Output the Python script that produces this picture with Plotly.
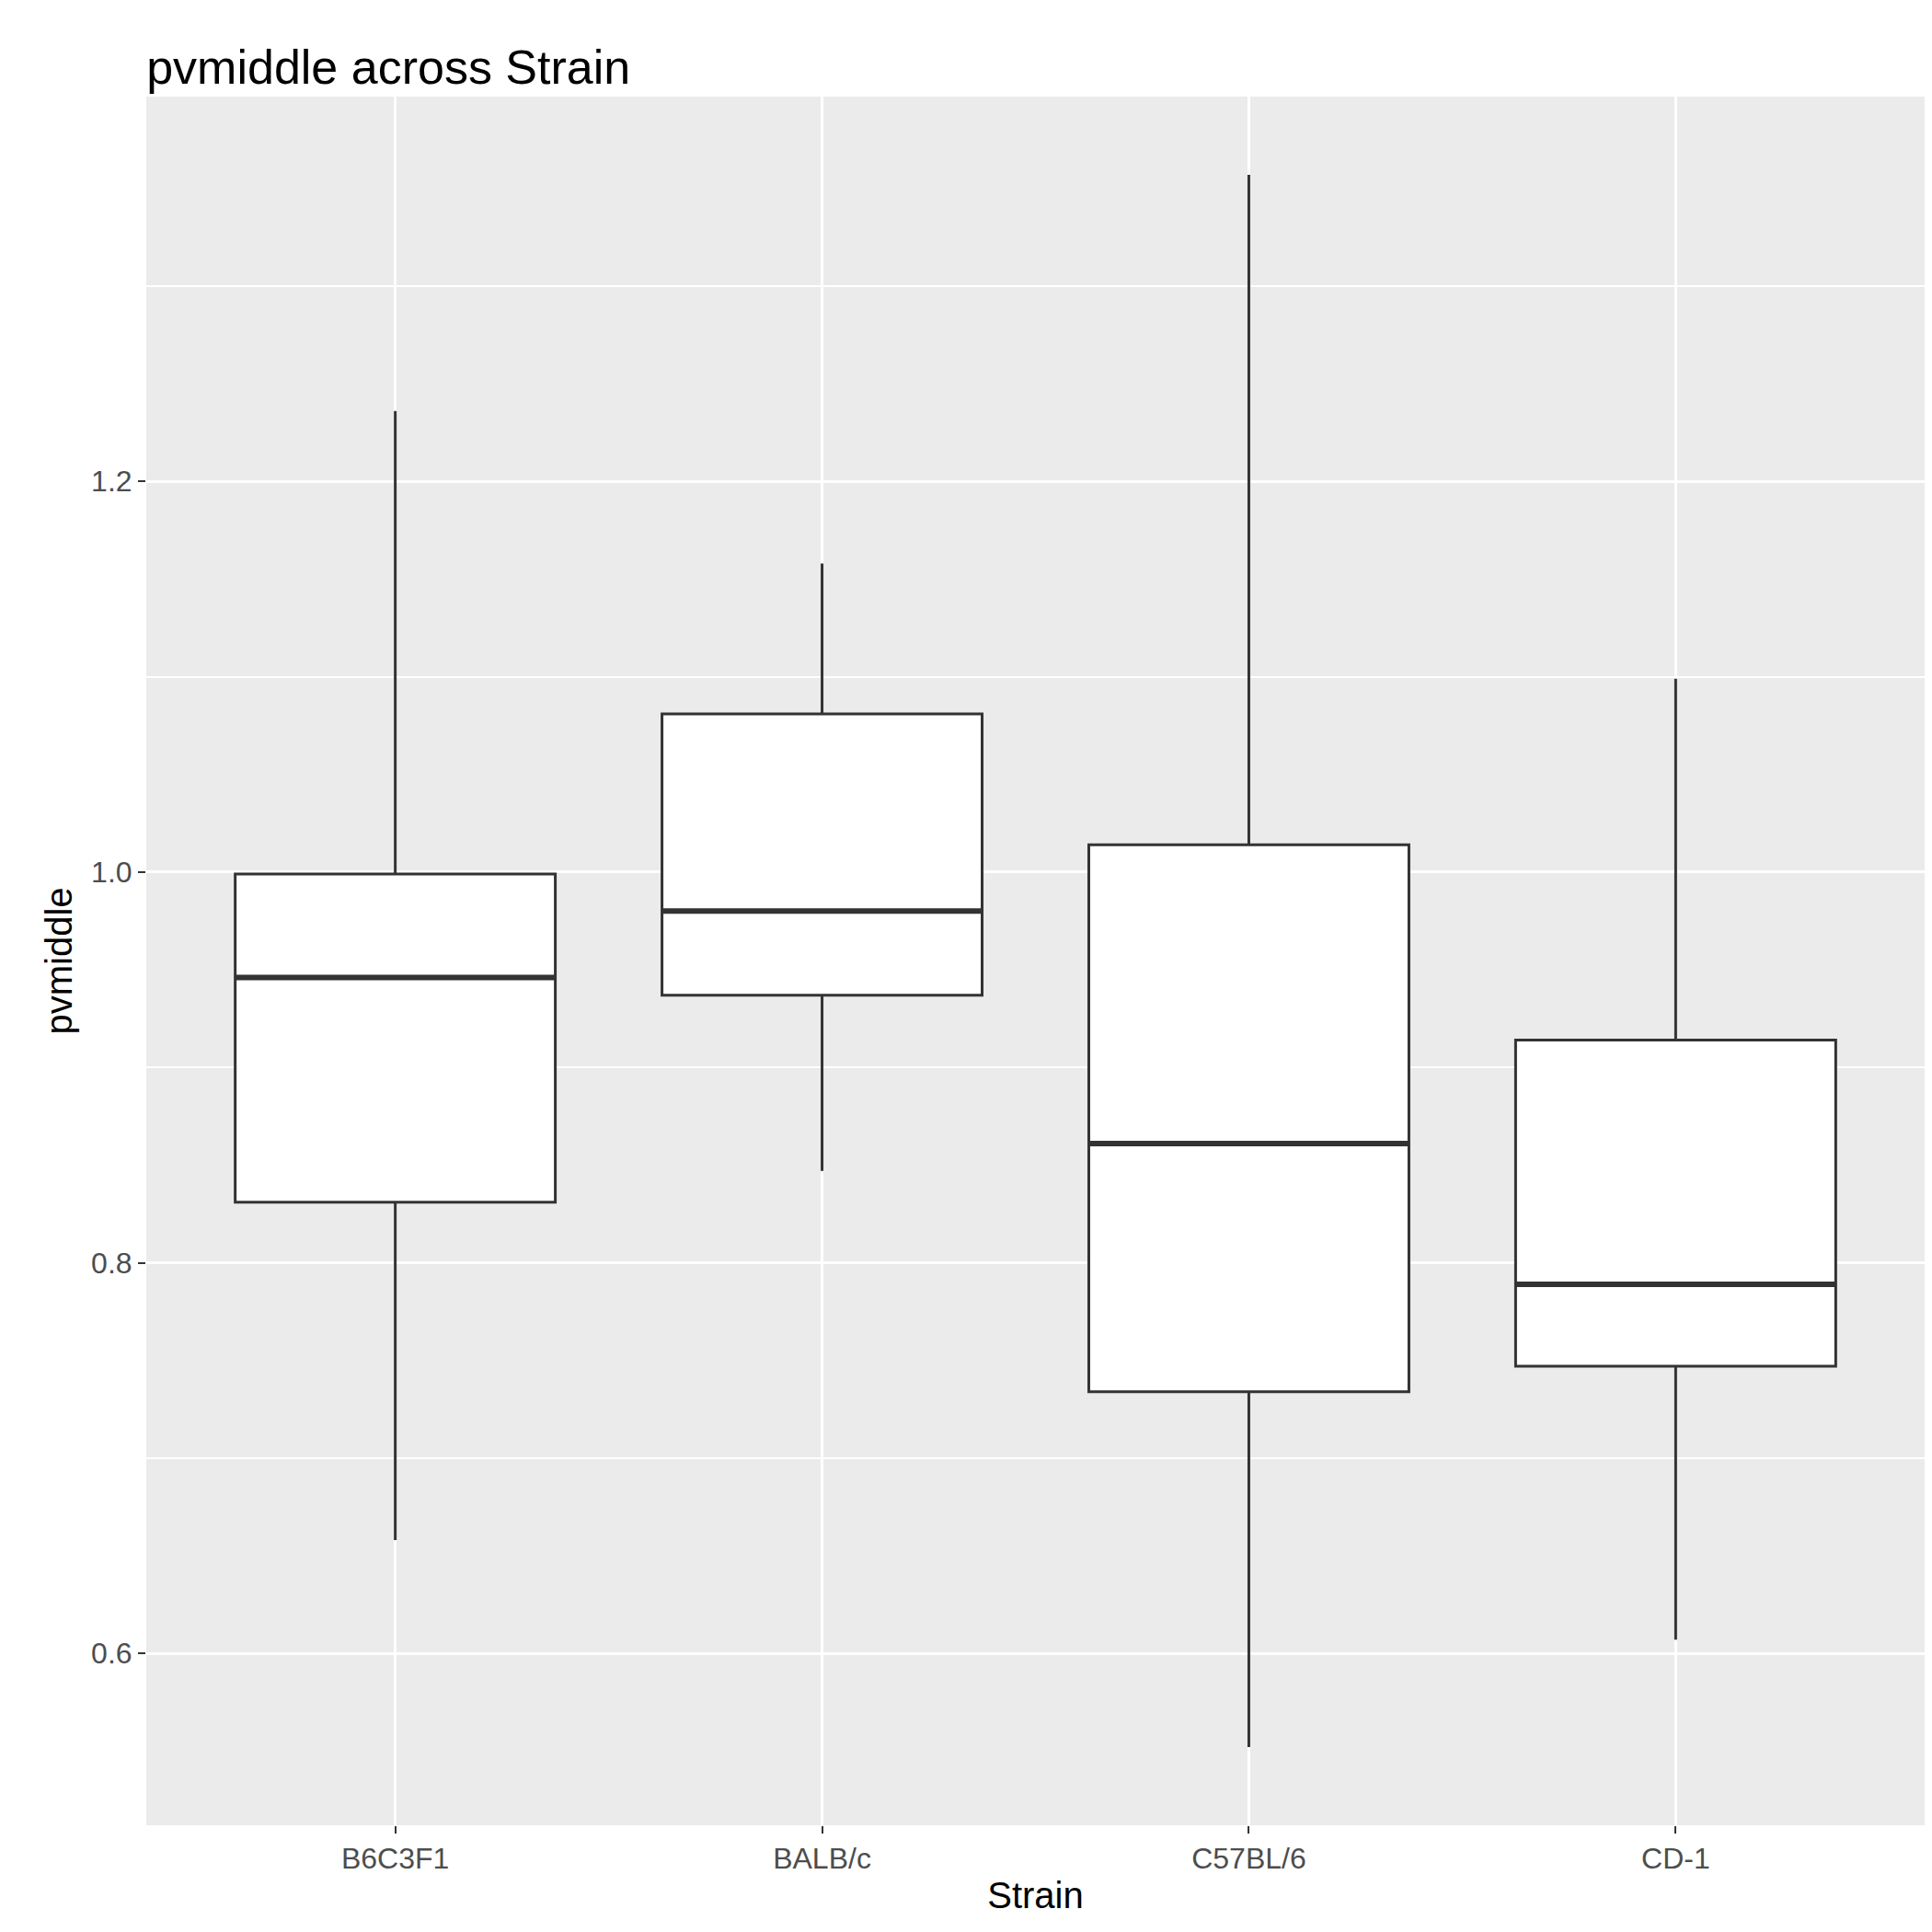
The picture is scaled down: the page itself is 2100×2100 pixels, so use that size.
import plotly.graph_objects as go

strains = ["B6C3F1", "BALB/c", "C57BL/6", "CD-1"]
lower = [0.658, 0.847, 0.552, 0.607]
q1 = [0.831, 0.937, 0.734, 0.747]
median = [0.946, 0.980, 0.861, 0.789]
q3 = [0.999, 1.081, 1.014, 0.914]
upper = [1.236, 1.158, 1.357, 1.099]

box_width = 0.75

fig = go.Figure()
fig.add_trace(go.Box(
    x=strains, q1=q1, median=median, q3=q3,
    lowerfence=lower, upperfence=upper,
    fillcolor="white", line=dict(color="#333333", width=3),
    width=box_width, whiskerwidth=0, boxpoints=False, showlegend=False,
    hoverinfo="y",
))

# thicker median line, like ggplot
for i, m in enumerate(median):
    fig.add_shape(type="line", xref="x", yref="y",
                  x0=i - box_width / 2, x1=i + box_width / 2, y0=m, y1=m,
                  line=dict(color="#333333", width=6))

fig.update_layout(
    width=2100, height=2100,
    title=dict(text="pvmiddle across Strain", x=0.072, xanchor="left", y=0.978,
               font=dict(size=52, color="black")),
    paper_bgcolor="white", plot_bgcolor="#EBEBEB",
    font=dict(family="Liberation Sans, Arial", size=32, color="#4D4D4D"),
    margin=dict(l=151, r=16, t=97, b=124),
    xaxis=dict(title=dict(text="Strain", font=dict(size=40, color="black"), standoff=8),
               showgrid=True, gridcolor="white", gridwidth=3,
               ticks="outside", ticklen=8, tickcolor="#333333", tickwidth=2,
               zeroline=False),
    yaxis=dict(title=dict(text="pvmiddle", font=dict(size=40, color="black"), standoff=8),
               range=[0.512, 1.397], tickvals=[0.6, 0.8, 1.0, 1.2],
               ticktext=["0.6", "0.8", "1.0", "1.2"],
               showgrid=True, gridcolor="white", gridwidth=3,
               minor=dict(tickvals=[0.7, 0.9, 1.1, 1.3], showgrid=True,
                          gridcolor="white", gridwidth=1.5, ticks=""),
               ticks="outside", ticklen=8, tickcolor="#333333", tickwidth=2,
               zeroline=False),
)

fig.write_html("out.html")
